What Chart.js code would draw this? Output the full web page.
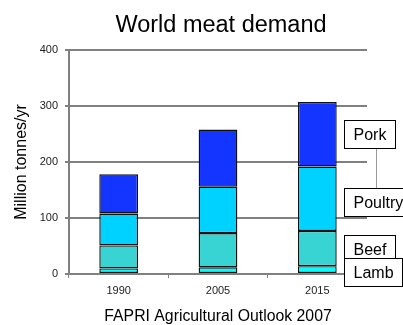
<!DOCTYPE html>
<html>
<head>
<meta charset="utf-8">
<script src="https://cdn.jsdelivr.net/npm/chart.js@4/dist/chart.umd.min.js"></script>
<style>
  html, body { margin: 0; padding: 0; background: #ffffff; }
  #wrap { width: 403px; height: 325px; }
</style>
</head>
<body>
<div id="wrap"><canvas id="c" width="403" height="325"></canvas></div>
<script>
// World meat demand, million tonnes per year (stacked, bottom to top)
const years   = ['1990', '2005', '2015'];
const lamb    = [10, 12, 14];
const beef    = [41, 61, 63];
const poultry = [57, 83, 115];
const pork    = [70, 102, 115];
const yTicks  = [0, 100, 200, 300, 400];

const FONT = '"Liberation Sans", Arial, Helvetica, sans-serif';
const GRID = '#808080';

// Heading drawn across the plot's visual centre
const headingPlugin = {
  id: 'heading',
  afterDraw(chart) {
    const ctx = chart.ctx;
    ctx.save();
    ctx.fillStyle = '#000';
    ctx.font = '23.5px ' + FONT;
    ctx.textAlign = 'center';
    ctx.textBaseline = 'alphabetic';
    ctx.fillText('World meat demand', 221, 32);
    ctx.restore();
  }
};

// Series name boxes to the right of the last column, centred on its segments
const calloutPlugin = {
  id: 'callouts',
  afterDatasetsDraw(chart) {
    const ctx = chart.ctx;
    const area = chart.chartArea;
    const left = area.right - 23;
    const h = 28, padX = 9;
    const nudge = { Poultry: 3.5, Lamb: 2 };
    const boxes = [];
    chart.data.datasets.forEach((ds, i) => {
      const meta = chart.getDatasetMeta(i);
      const bar = meta.data[meta.data.length - 1];
      const cy = (bar.y + bar.base) / 2 + (nudge[ds.label] || 0);
      boxes.push({ label: ds.label, cy });
    });
    ctx.save();
    ctx.font = '16px ' + FONT;
    // leader between the two upper boxes
    const pk = boxes.find(b => b.label === 'Pork');
    const po = boxes.find(b => b.label === 'Poultry');
    ctx.strokeStyle = '#9a9a9a';
    ctx.lineWidth = 1;
    ctx.beginPath();
    ctx.moveTo(left + 32.5, pk.cy + h / 2);
    ctx.lineTo(left + 32.5, po.cy - h / 2);
    ctx.stroke();
    // top series first so lower boxes overlap them
    boxes.slice().reverse().forEach(b => {
      const w = Math.round(ctx.measureText(b.label).width + padX * 2);
      const top = Math.round(b.cy - h / 2) + 0.5;
      ctx.fillStyle = '#ffffff';
      ctx.fillRect(left + 0.5, top, w, h);
      ctx.strokeStyle = '#000000';
      ctx.lineWidth = 1;
      ctx.strokeRect(left + 0.5, top, w, h);
      ctx.fillStyle = '#000000';
      ctx.textAlign = 'left';
      ctx.textBaseline = 'middle';
      ctx.fillText(b.label, left + padX + 0.5, top + h / 2 + 1);
    });
    ctx.restore();
  }
};

const barStyle = {
  borderColor: '#111111',
  borderWidth: 1.4,
  borderSkipped: false,
  barPercentage: 0.39,
  categoryPercentage: 1.0
};

new Chart(document.getElementById('c'), {
  type: 'bar',
  data: {
    labels: years,
    datasets: [
      Object.assign({ label: 'Lamb',    data: lamb,    backgroundColor: '#00FFFF' }, barStyle),
      Object.assign({ label: 'Beef',    data: beef,    backgroundColor: '#38D4D4' }, barStyle),
      Object.assign({ label: 'Poultry', data: poultry, backgroundColor: '#00D2FF' }, barStyle),
      Object.assign({ label: 'Pork',    data: pork,    backgroundColor: '#1434FF' }, barStyle)
    ]
  },
  options: {
    responsive: false,
    animation: false,
    layout: { padding: { top: 50, right: 36, left: 0, bottom: 0 } },
    plugins: {
      legend: { display: false },
      title: { display: false },
      tooltip: { enabled: false }
    },
    scales: {
      x: {
        stacked: true,
        afterFit(s) { s.height = 51; },
        border: { display: false },
        grid: {
          drawOnChartArea: false,
          drawTicks: true,
          tickLength: 4,
          color: (c) => (c.index === years.length ? 'rgba(0,0,0,0)' : GRID),
          lineWidth: 1
        },
        ticks: { font: { family: FONT, size: 11 }, color: '#222', padding: 6 },
        title: {
          display: true,
          text: 'FAPRI Agricultural Outlook 2007',
          color: '#000',
          font: { family: FONT, size: 15.8, lineHeight: 1 },
          padding: { top: 0, bottom: 0 }
        }
      },
      y: {
        stacked: true,
        min: 0,
        max: 400,
        afterFit(s) { s.width = 69; },
        afterBuildTicks(s) { s.ticks = yTicks.map(v => ({ value: v })); },
        border: { display: true, color: GRID, width: 2 },
        grid: { color: GRID, lineWidth: 2, tickLength: 4, drawTicks: true },
        ticks: { font: { family: FONT, size: 11 }, color: '#222', padding: 7 },
        title: {
          display: true,
          text: 'Million tonnes/yr',
          color: '#000',
          font: { family: FONT, size: 16, lineHeight: 1.2 },
          padding: { top: 12, bottom: 0 }
        }
      }
    }
  },
  plugins: [headingPlugin, calloutPlugin]
});
</script>
</body>
</html>
